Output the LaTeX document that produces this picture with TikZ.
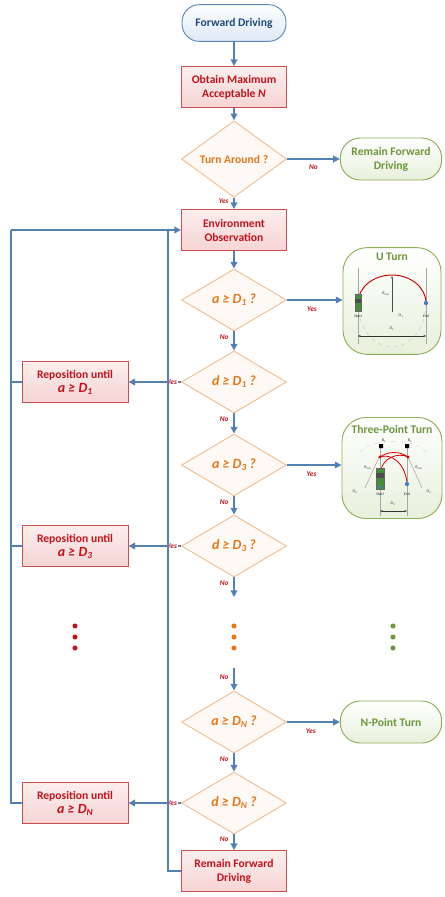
\documentclass[tikz,border=0pt]{standalone}
\usepackage{fontspec}
\setmainfont{Carlito}
\usetikzlibrary{
    shapes.geometric,
    arrows.meta,
    positioning,
    calc
}

\definecolor{flowblue}{RGB}{84,129,178}
\definecolor{termline}{RGB}{95,135,185}
\definecolor{termfill}{RGB}{222,232,245}
\definecolor{termtext}{RGB}{31,73,125}
\definecolor{procline}{RGB}{200,80,80}
\definecolor{procfill}{RGB}{246,212,212}
\definecolor{procfilltop}{RGB}{252,238,238}
\definecolor{proctext}{RGB}{192,20,30}
\definecolor{decline}{RGB}{240,190,150}
\definecolor{decfill}{RGB}{254,249,244}
\definecolor{dectext}{RGB}{228,120,30}
\definecolor{okline}{RGB}{140,175,90}
\definecolor{okfill}{RGB}{232,240,220}
\definecolor{oktext}{RGB}{110,150,60}
\definecolor{cargreen}{RGB}{70,140,60}
\definecolor{enddot}{RGB}{80,120,200}

\newcommand{\boxfont}{\fontsize{8.7}{10.5}\selectfont\bfseries}
\newcommand{\condfont}{\fontsize{10.5}{12}\selectfont\bfseries\itshape}
\newcommand{\answerfont}{\fontsize{5.5}{6}\selectfont\bfseries\itshape}
\newcommand{\sketchfont}{\fontsize{3}{3.5}\selectfont\itshape}
\newcommand{\lowsub}[1]{\raisebox{-0.3ex}{\fontsize{7}{7}\selectfont #1}}
\newcommand{\cond}[2]{#1 ≥ D\lowsub{#2} ?}
\newcommand{\bound}[1]{a ≥ D\lowsub{#1}}

\tikzset{
    terminal/.style={rectangle, rounded corners=13pt, draw=termline, line width=0.7pt,
        top color=white, bottom color=termfill, text=termtext,
        minimum width=78pt, minimum height=27.5pt, font=\boxfont, align=center},
    process/.style={rectangle, draw=procline, line width=0.7pt,
        top color=procfilltop, bottom color=procfill, text=proctext,
        minimum width=78.75pt, minimum height=30.75pt, font=\boxfont, align=center, inner sep=1pt},
    decision/.style={diamond, draw=decline, line width=0.7pt, fill=decfill, text=dectext,
        minimum width=78.75pt, minimum height=46.5pt, inner sep=0pt, font=\condfont},
    outcome/.style={rectangle, rounded corners=15pt, draw=okline, line width=0.7pt,
        top color=white, bottom color=okfill, text=oktext,
        minimum width=76pt, minimum height=31.5pt, font=\boxfont, align=center},
    sketchbox/.style={outcome, rounded corners=18pt, minimum width=73.5pt, minimum height=80pt},
    flow/.style={draw=flowblue, line width=1.1pt},
    answer/.style={text=proctext, font=\answerfont, inner sep=0.5pt},
    sketchline/.style={draw=gray!70, line width=0.4pt},
    tag/.style={font=\sketchfont, inner sep=0pt, text=black!80},
    >={Triangle[length=5pt,width=5pt]}
}

\begin{document}
\begin{tikzpicture}[x=0.75pt, y=-0.75pt]
\useasboundingbox (0,0) rectangle (444,897);

% main column
\node[terminal] (fwd) at (234,23) {Forward Driving};
\node[process] (maxn) at (234,87) {Obtain Maximum\\Acceptable \textit{N}};
\node[decision, font=\boxfont] (turn) at (234,159) {Turn Around ?};
\node[outcome] (stay) at (391,159) {Remain Forward\\Driving};
\node[process] (env) at (234,230) {Environment\\Observation};
\node[decision] (a1) at (234,300) {\cond{a}{1}};
\node[decision] (d1) at (234,382) {\cond{d}{1}};
\node[decision] (a3) at (234,465) {\cond{a}{3}};
\node[decision] (d3) at (234,546) {\cond{d}{3}};
\node[decision] (aN) at (234,722) {\cond{a}{N}};
\node[decision] (dN) at (234,803) {\cond{d}{N}};
\node[process] (remain) at (234,871) {Remain Forward\\Driving};

% reposition boxes
\node[process, minimum width=79.5pt] (rep1) at (75,382) {Reposition until\\{\condfont\bound{1}}};
\node[process, minimum width=79.5pt] (rep3) at (75,546) {Reposition until\\{\condfont\bound{3}}};
\node[process, minimum width=79.5pt] (repN) at (75,803) {Reposition until\\{\condfont\bound{N}}};

% turn manoeuvres
\node[outcome] (npoint) at (391,722) {N-Point Turn};
\node[sketchbox] (uturn) at (392,301) {};
\node[font=\boxfont, text=oktext] (utitle) at (392,257) {U Turn};
\node[sketchbox, minimum width=75pt, minimum height=75.75pt] (threept) at (392,468) {};
\node[font=\boxfont, text=oktext] (ttitle) at (392,429) {Three-Point Turn};

% U turn sketch
\draw[sketchline] (358,268) -- (358,344) (426,268) -- (426,344);
\draw[gray!40, dashed, line width=0.4pt] (426,303) arc[start angle=0, end angle=-180, x radius=25.5pt, y radius=33pt];
\draw[red!80!black, line width=0.7pt] (358,303) arc[start angle=180, end angle=0, x radius=25.5pt, y radius=21pt];
\draw[black!70, line width=0.3pt, -{Stealth[length=2pt,width=1.5pt]}] (392,312) -- (392,276);
\node[tag] (urmin) at (386,294) {R\textsubscript{min}};
\node[tag] (uo) at (401,316) {O\textsubscript{1}};
\draw[fill=cargreen, draw=black!60, line width=0.2pt] (355,294) rectangle (361,311);
\fill[black!70] (355,299) rectangle (361,303);
\fill[enddot] (426,303) circle (1.6pt);
\node[tag] (ustart) at (358,316) {Start};
\node[tag] (uend) at (426,316) {End};
\draw[black!80, line width=0.3pt, {Stealth[length=2pt,width=1.5pt]}-{Stealth[length=2pt,width=1.5pt]}] (358,336) -- (426,336);
\node[tag] (ud) at (392,329) {D\textsubscript{1}};

% three-point sketch
\draw[gray!30, dashed, line width=0.3pt] (360,452) .. controls (368,443) and (385,440) .. (396,442);
\draw[gray!30, dashed, line width=0.3pt] (426,452) .. controls (418,443) and (401,440) .. (390,442);
\draw[sketchline] (380,447) -- (380,516) (407,447) -- (407,516);
\draw[sketchline] (365,488) -- (379,457) (422,488) -- (408,457);
\node[tag] (trl) at (368,468) {R\textsubscript{min}};
\node[tag] (trr) at (419,468) {R\textsubscript{min}};
\draw[red!85!black, line width=0.6pt] (380,457) .. controls (388,451) and (400,451) .. (408,457);
\draw[red!85!black, line width=0.6pt] (381,470) .. controls (383,458) and (398,452) .. (408,457);
\draw[red!85!black, line width=0.6pt] (407,483) .. controls (405,462) and (390,453) .. (380,457);
\fill[red!85!black] (380,457) circle (1.2pt) (408,457) circle (1.2pt);
\fill[black] (379,444) rectangle (383,448) (405,444) rectangle (409,448);
\node[tag] (tb1) at (384,441) {B\textsubscript{1}};
\node[tag] (tb2) at (410,441) {B\textsubscript{2}};
\draw[fill=cargreen, draw=black!60, line width=0.2pt] (376,468) rectangle (384,489);
\fill[black!70] (376,473) rectangle (384,478);
\fill[enddot] (380,487) circle (1.2pt);
\fill[enddot] (407,484) circle (1.6pt);
\node[tag] (to1) at (355,492) {O\textsubscript{2}};
\node[tag] (to2) at (429,492) {O\textsubscript{2}};
\node[tag] (tstart) at (380,494) {Start};
\node[tag] (tend) at (407,494) {End};
\draw[black!80, line width=0.3pt, {Stealth[length=2pt,width=1.5pt]}-{Stealth[length=2pt,width=1.5pt]}] (380,511) -- (407,511);
\node[tag] (td) at (393,504) {D\textsubscript{3}};

% connectors down the middle
\coordinate (gapTop) at (234,597);
\coordinate (gapBot) at (234,668);
\draw[flow, ->] (fwd) -- (maxn);
\draw[flow, ->] (maxn) -- (turn);
\draw[flow, ->] (turn) -- node[answer, below=3pt, pos=.5] (no0) {No} (stay);
\draw[flow, ->] (turn) -- node[answer, left=3pt, pos=.3] (yes0) {Yes} (env);
\draw[flow, ->] (env) -- (a1);
\draw[flow, ->] (a1) -- node[answer, below=4pt, pos=.45] (yes1) {Yes} (uturn.west |- a1);
\draw[flow, ->] (a1) -- node[answer, left=3pt, pos=.3] (no1) {No} (d1);
\draw[flow, ->] (d1) -- node[answer, fill=white, pos=.17] (yes2) {Yes} (rep1);
\draw[flow, ->] (d1) -- node[answer, left=3pt, pos=.3] (no2) {No} (a3);
\draw[flow, ->] (a3) -- node[answer, below=4pt, pos=.45] (yes3) {Yes} (threept.west |- a3);
\draw[flow, ->] (a3) -- node[answer, left=3pt, pos=.3] (no3) {No} (d3);
\draw[flow, ->] (d3) -- node[answer, fill=white, pos=.17] (yes4) {Yes} (rep3);
\draw[flow, ->] (d3) -- node[answer, left=3pt, pos=.3] (no4) {No} (gapTop);
\draw[flow, ->] (gapBot) -- node[answer, left=3pt, pos=.4] (no5) {No} (aN);
\draw[flow, ->] (aN) -- node[answer, below=4pt, pos=.45] (yes5) {Yes} (npoint);
\draw[flow, ->] (aN) -- node[answer, left=3pt, pos=.3] (no6) {No} (dN);
\draw[flow, ->] (dN) -- node[answer, fill=white, pos=.17] (yes6) {Yes} (repN);
\draw[flow, ->] (dN) -- node[answer, left=3pt, pos=.3] (no7) {No} (remain);

% loops back to the observation step
\coordinate (loopL) at (11,230);
\coordinate (loopR) at (168,230);
\draw[flow] (rep1.west) -- (rep1.west -| loopL);
\draw[flow] (rep3.west) -- (rep3.west -| loopL);
\draw[flow] (repN.west) -| (loopL);
\draw[flow, ->] (loopL) -- (env.west);
\draw[flow] (remain.west) -| (loopR);

% more checks in between
\foreach \y in {626,637,648} {
    \fill[proctext] (75,\y) circle (1.9pt);
    \fill[dectext] (234,\y) circle (1.9pt);
    \fill[oktext] (393,\y) circle (1.9pt);
}
\end{tikzpicture}
\end{document}
